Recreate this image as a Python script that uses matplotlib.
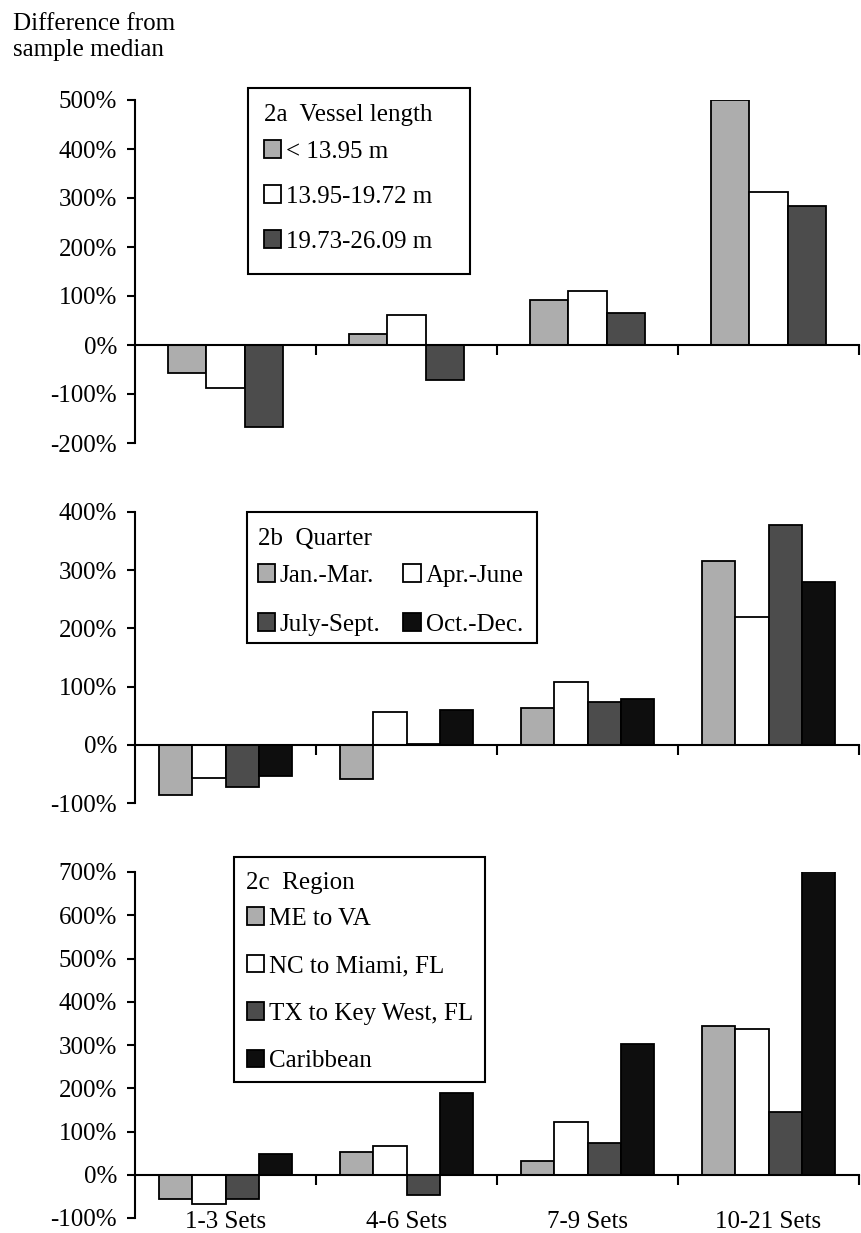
import matplotlib.pyplot as plt
import matplotlib.patches as mpatches
import matplotlib.transforms as mtransforms
import numpy as np

plt.rcParams["font.family"] = ["Liberation Serif", "DejaVu Serif"]

categories = ["1-3 Sets", "4-6 Sets", "7-9 Sets", "10-21 Sets"]

# 2a vessel length
length_labels = ["< 13.95 m", "13.95-19.72 m", "19.73-26.09 m"]
length_small = [-57, 22, 92, 500]
length_mid = [-88, 62, 110, 312]
length_large = [-167, -72, 65, 284]

# 2b quarter
quarter_labels = ["Jan.-Mar.", "Apr.-June", "July-Sept.", "Oct.-Dec."]
q1 = [-87, -59, 63, 316]
q2 = [-57, 57, 108, 220]
q3 = [-73, 2, 74, 377]
q4 = [-53, 60, 79, 280]

# 2c region
region_labels = ["ME to VA", "NC to Miami, FL", "TX to Key West, FL", "Caribbean"]
me_va = [-55, 53, 32, 344]
nc_miami = [-67, 67, 122, 337]
tx_keywest = [-55, -46, 73, 145]
caribbean = [48, 189, 302, 702]

LIGHT = "#adadad"
WHITE = "#ffffff"
DARK = "#4c4c4c"
BLACK = "#0e0e0e"

FS = 18
W, H = 861, 1233

fig = plt.figure(figsize=(8.61, 12.33), dpi=100)
left, width = 135 / W, 724 / W


def make_axes(top_px, bottom_px):
    y0 = 1 - bottom_px / H
    h = (bottom_px - top_px) / H
    return fig.add_axes([left, y0, width, h])


def style_axes(ax, ymin, ymax):
    ax.set_xlim(-0.5, 3.5)
    ax.set_ylim(ymin, ymax)
    ax.spines["top"].set_visible(False)
    ax.spines["right"].set_visible(False)
    ax.spines["bottom"].set_position(("data", 0))
    for s in ("left", "bottom"):
        ax.spines[s].set_linewidth(1.5)
    yt = np.arange(ymin, ymax + 1, 100)
    ax.set_yticks(yt)
    ax.set_yticklabels([f"{v:d}%" for v in yt], fontsize=FS)
    ax.set_xticks([0.5, 1.5, 2.5, 3.5])
    ax.set_xticklabels([])
    ax.tick_params(axis="y", direction="out", length=6, width=1.5, pad=7)
    ax.tick_params(axis="x", direction="out", length=7, width=1.5)


def draw_bars(ax, series, colors, bw):
    x = np.arange(len(categories))
    n = len(series)
    for i, (vals, c) in enumerate(zip(series, colors)):
        off = (i - (n - 1) / 2) * bw
        ax.bar(x + off, vals, bw, color=c, edgecolor="black", linewidth=1.3, zorder=2)


def handles_for(colors):
    return [mpatches.Patch(facecolor=c, edgecolor="black", linewidth=1.3) for c in colors]


def add_legend(ax, handles, labels, title, anchor_px, box_px, ncol=1, spacing=0.9):
    leg = ax.legend(handles, labels, ncol=ncol, title=title, loc="upper left",
                    bbox_to_anchor=(anchor_px[0] / W, 1 - anchor_px[1] / H),
                    bbox_transform=fig.transFigure, fontsize=FS, title_fontsize=FS,
                    frameon=False, handlelength=0.7, handleheight=0.7,
                    handletextpad=0.2, labelspacing=spacing, columnspacing=0.9,
                    borderpad=0.5, borderaxespad=0)
    leg._legend_box.align = "left"
    leg._legend_box.sep = 10
    x0, y0, bw, bh = box_px
    fig.add_artist(mpatches.Rectangle((x0 / W, 1 - (y0 + bh) / H), bw / W, bh / H,
                                      transform=fig.transFigure, fill=False,
                                      edgecolor="black", linewidth=1.5))


# ---- panel a ----
ax1 = make_axes(100, 443)
style_axes(ax1, -200, 500)
draw_bars(ax1, [length_small, length_mid, length_large], [LIGHT, WHITE, DARK], 0.21)
add_legend(ax1, handles_for([LIGHT, WHITE, DARK]), length_labels, "2a  Vessel length",
           (251, 92), (248, 88, 222, 186))

# ---- panel b ----
ax2 = make_axes(512, 803)
style_axes(ax2, -100, 400)
cols_b = [LIGHT, WHITE, DARK, BLACK]
draw_bars(ax2, [q1, q2, q3, q4], cols_b, 0.185)
hb = handles_for(cols_b)
order = [0, 2, 1, 3]
add_legend(ax2, [hb[i] for i in order], [quarter_labels[i] for i in order], "2b  Quarter",
           (245, 516), (247, 512, 290, 131), ncol=2, spacing=1.05)

# ---- panel c ----
ax3 = make_axes(872, 1218)
style_axes(ax3, -100, 700)
draw_bars(ax3, [me_va, nc_miami, tx_keywest, caribbean], cols_b, 0.185)
add_legend(ax3, handles_for(cols_b), region_labels, "2c  Region",
           (234, 859), (234, 857, 251, 225), spacing=1.0)

trans = mtransforms.blended_transform_factory(ax3.transData, ax3.transAxes)
for i, lab in enumerate(categories):
    ax3.text(i, -0.012, lab, transform=trans, ha="center", va="center", fontsize=FS)

fig.text(13 / W, 1 - 13 / H, "Difference from\nsample median", ha="left", va="top",
         fontsize=FS, linespacing=1.25)

fig.savefig("out.png", dpi=100)
